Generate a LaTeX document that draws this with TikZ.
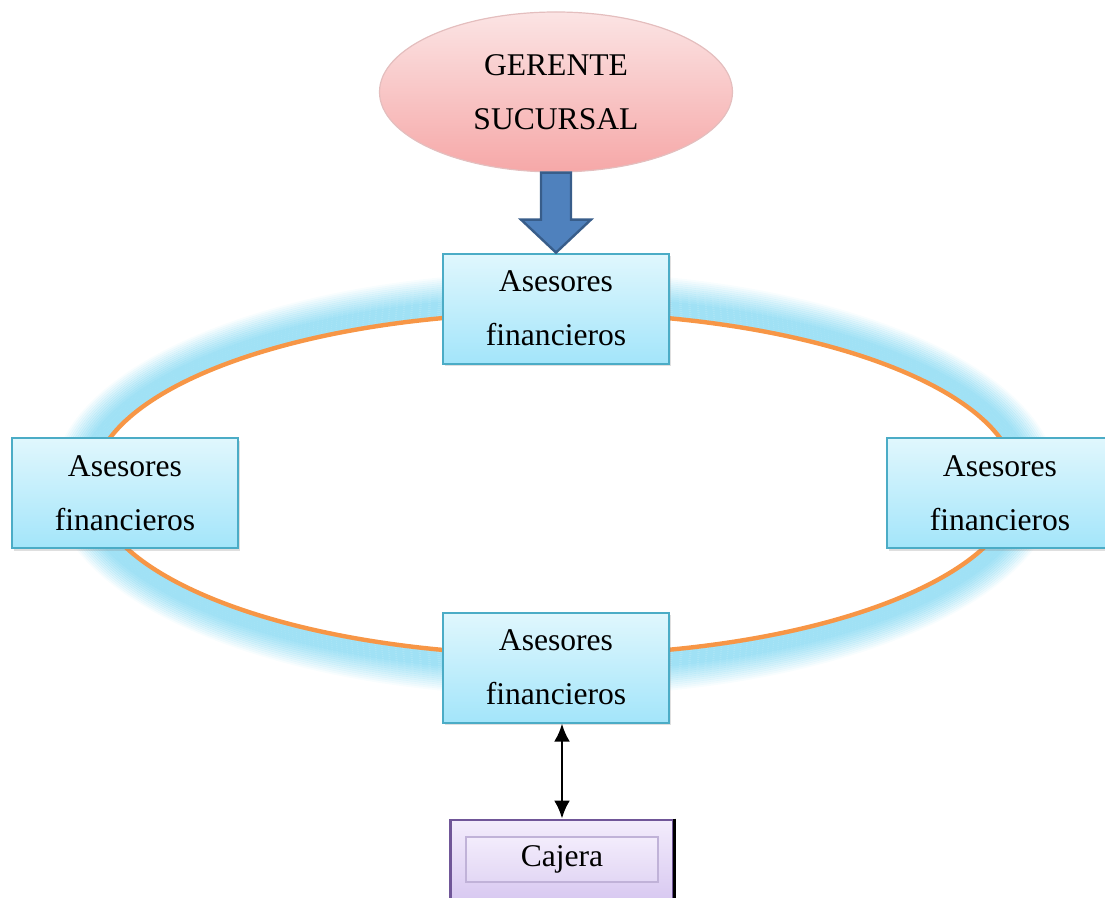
\documentclass[tikz,border=0pt]{standalone}
\usepackage{fontspec}
\setmainfont{Liberation Serif}
\usetikzlibrary{positioning,shapes.geometric,shadows,arrows.meta}
\definecolor{bleuhaut}{RGB}{224,247,253}
\definecolor{bleubas}{RGB}{163,229,250}
\definecolor{bleubord}{RGB}{75,172,198}
\definecolor{halo}{RGB}{160,225,245}
\definecolor{anneau}{RGB}{247,150,70}
\definecolor{roseclair}{RGB}{251,228,228}
\definecolor{rosefonce}{RGB}{246,168,168}
\definecolor{rosebord}{RGB}{228,190,190}
\definecolor{flechefond}{RGB}{79,129,189}
\definecolor{flechebord}{RGB}{56,93,138}
\definecolor{mauveclair}{RGB}{243,236,252}
\definecolor{mauvefonce}{RGB}{214,198,240}
\definecolor{mauvebord}{RGB}{112,86,152}
\definecolor{mauvegris}{RGB}{192,178,216}
\tikzstyle{asesor}=[rectangle,draw=bleubord,line width=1pt,top color=bleuhaut,bottom color=bleubas,minimum width=113pt,minimum height=55pt,align=center,drop shadow={shadow xshift=1.2pt,shadow yshift=-1.2pt,opacity=0.25}]
\tikzstyle{gerente}=[ellipse,draw=rosebord,line width=0.6pt,top color=roseclair,bottom color=rosefonce,minimum width=176.5pt,minimum height=80pt,inner sep=0pt,align=center]
\tikzstyle{caisse}=[rectangle,draw=mauvebord,line width=1.2pt,top color=mauveclair,bottom color=mauvefonce,minimum width=111.5pt,minimum height=43.5pt]
\tikzstyle{cajera}=[rectangle,draw=mauvegris,line width=0.8pt,top color=mauveclair,bottom color=mauvefonce!70,minimum width=96pt,minimum height=22.5pt]
\tikzstyle{fleche}=[draw=flechebord,line width=1.2pt,fill=flechefond,line join=miter]

\begin{document}
\begin{tikzpicture}[x=0.5pt,y=-0.5pt,font=\fontsize{15.8}{27}\selectfont]
\useasboundingbox (0,0) rectangle (1105,898);

% anneau avec halo
\coordinate (centre) at (555,484);
\foreach \k in {1,...,20}{
  \pgfmathsetmacro{\op}{min(1,1.6*(1-\k/21))}
  \pgfmathsetmacro{\rx}{231+\k}
  \pgfmathsetmacro{\ry}{85.5+\k}
  \draw[halo,line width=1.1pt,draw opacity=\op] (centre) ellipse [x radius=\rx pt,y radius=\ry pt];
}
\draw[anneau,line width=2.2pt] (centre) ellipse [x radius=231pt,y radius=85.5pt];

\node[gerente] (G00) at (556,92) {GERENTE\\SUCURSAL};
\node[asesor] (A10) [below=40pt of G00] {Asesores\\financieros};
\node[asesor] (A30) [below=123.5pt of A10] {Asesores\\financieros};
\node[asesor] (A20) at (125,493.5) {Asesores\\financieros};
\node[asesor] (A21) at (1000,493.5) {Asesores\\financieros};
\node[caisse] (C40) [below=47.5pt of A30, xshift=3pt] {};
\draw[line width=1.6pt] (C40.north east) -- (C40.south east);
\node[cajera] (C41) at ([yshift=2pt]C40.center) {Cajera};

\draw[fleche] ([xshift=-7.5pt]G00.south) -- ([xshift=-7.5pt,yshift=16.5pt]A10.north) -- ([xshift=-17.5pt,yshift=16.5pt]A10.north) -- (A10.north) -- ([xshift=17.5pt,yshift=16.5pt]A10.north) -- ([xshift=7.5pt,yshift=16.5pt]A10.north) -- ([xshift=7.5pt]G00.south) -- cycle;
\draw[line width=1.4pt,{Latex[length=9pt,width=8pt]}-{Latex[length=9pt,width=8pt]}] (C40.north |- A30.south) -- (C40.north);

\end{tikzpicture}
\end{document}
